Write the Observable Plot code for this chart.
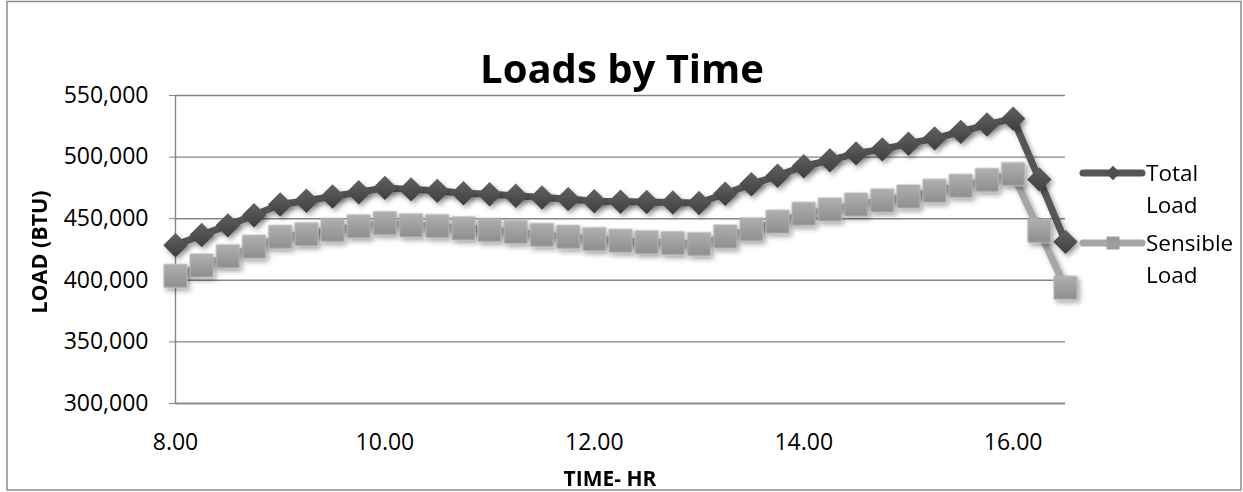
<!DOCTYPE html>
<html><head><meta charset="utf-8">
<script src="https://cdn.jsdelivr.net/npm/d3@7"></script>
<script src="https://cdn.jsdelivr.net/npm/@observablehq/plot@0.6"></script>
<style>
html,body{margin:0;padding:0;background:#fff;}
#wrap{position:relative;width:1243px;height:492px;overflow:hidden;font-family:"Open Sans",sans-serif;}
#chart{position:absolute;left:0;top:60px;}
#overlay{position:absolute;left:0;top:0;pointer-events:none;}
</style>
</head><body><div id="wrap"><div id="chart"></div><svg id="overlay" width="1243" height="492"></svg></div>
<script>
const times = [8.00, 8.25, 8.50, 8.75, 9.00, 9.25, 9.50, 9.75, 10.00, 10.25, 10.50, 10.75, 11.00, 11.25, 11.50, 11.75, 12.00, 12.25, 12.50, 12.75, 13.00, 13.25, 13.50, 13.75, 14.00, 14.25, 14.50, 14.75, 15.00, 15.25, 15.50, 15.75, 16.00, 16.25, 16.50];
const totalLoad = [428500, 436800, 444600, 452800, 461500, 464600, 468000, 471500, 475000, 473800, 472600, 470700, 469900, 468600, 467200, 465900, 464200, 463800, 463500, 463200, 462700, 470200, 477900, 484800, 492600, 497400, 503000, 506300, 510900, 515200, 520500, 526400, 531200, 481900, 431200];
const sensibleLoad = [403500, 412000, 419500, 427200, 435200, 437400, 440800, 443800, 446400, 444600, 444000, 442200, 440800, 439200, 436800, 435200, 433400, 432000, 430900, 430200, 429400, 435500, 441400, 447500, 453900, 457400, 461400, 464800, 468000, 472600, 476600, 481400, 486200, 440000, 393900];
const yTicks = [300000, 350000, 400000, 450000, 500000, 550000];
const xTicks = [8, 10, 12, 14, 16];
const seriesNames = ["Total Load", "Sensible Load"];
const titleText = "Loads by Time";
const xLabel = "TIME- HR";
const yLabel = "LOAD (BTU)";

const rows = times.map((t, i) => ({time: t, total: totalLoad[i], sensible: sensibleLoad[i]}));

const plot = Plot.plot({
  width: 1243, height: 432,
  marginLeft: 175, marginRight: 178, marginTop: 35, marginBottom: 89,
  x: {domain: [8, 16.5]},
  y: {domain: [300000, 550000]},
  style: {fontFamily: "Open Sans", fontSize: "23px", color: "#000", background: "transparent", overflow: "visible"},
  marks: [
    Plot.gridY(yTicks, {stroke: "#868686", strokeOpacity: 1, strokeWidth: 1.4}),
    Plot.ruleX([8], {stroke: "#868686", strokeWidth: 1.4}),
    Plot.ruleY([300000], {stroke: "#868686", strokeWidth: 1.4}),
    Plot.axisY(yTicks, {tickFormat: d3.format(","), tickSize: 6, tickPadding: 21, stroke: "#868686", fill: "#000", label: null}),
    Plot.axisX(xTicks, {tickFormat: d => d.toFixed(2), tickSize: 0, tickPadding: 30, fill: "#000", label: null}),
    Plot.line(rows, {x: "time", y: "total", stroke: "#565656", strokeWidth: 7, strokeLinejoin: "round"}),
    Plot.dot(rows, {x: "time", y: "total", symbol: "diamond2", r: 11, fill: "url(#gTot)"}),
    Plot.line(rows, {x: "time", y: "sensible", stroke: "#a6a6a6", strokeWidth: 7, strokeLinejoin: "round"}),
    Plot.dot(rows, {x: "time", y: "sensible", symbol: "square", r: 13, fill: "url(#gSen)", stroke: "#b5b5b5", strokeWidth: 1})
  ]
});
document.getElementById("chart").appendChild(plot);

// gradients + shadow filter inside the plot svg
const psvg = d3.select(plot);
const defs = psvg.insert("defs", ":first-child");
const gT = defs.append("linearGradient").attr("id", "gTot").attr("x1", 0).attr("y1", 0).attr("x2", 0).attr("y2", 1);
gT.append("stop").attr("offset", "0%").attr("stop-color", "#626262");
gT.append("stop").attr("offset", "100%").attr("stop-color", "#3e3e3e");
const gS = defs.append("linearGradient").attr("id", "gSen").attr("x1", 0).attr("y1", 0).attr("x2", 0).attr("y2", 1);
gS.append("stop").attr("offset", "0%").attr("stop-color", "#b0b0b0");
gS.append("stop").attr("offset", "100%").attr("stop-color", "#8e8e8e");
const f = defs.append("filter").attr("id", "shadow").attr("filterUnits", "userSpaceOnUse")
  .attr("x", 0).attr("y", 0).attr("width", 1243).attr("height", 432);
f.append("feDropShadow").attr("dx", 2.5).attr("dy", 3).attr("stdDeviation", 2.5).attr("flood-color", "#000").attr("flood-opacity", 0.35);
psvg.selectAll('g[aria-label="line"], g[aria-label="dot"]').attr("filter", "url(#shadow)");

const ov = d3.select("#overlay");
// frame
ov.append("rect").attr("x", 7).attr("y", 1.5).attr("width", 1234).attr("height", 488.5)
  .attr("fill", "none").attr("stroke", "#8c8c8c").attr("stroke-width", 1.5);

// title
ov.append("text").attr("x", 622).attr("y", 83).attr("text-anchor", "middle")
  .attr("font-family", "Open Sans").attr("font-weight", 700).attr("font-size", 40).attr("fill", "#000").text(titleText);

// axis titles
ov.append("text").attr("transform", "translate(38,252) rotate(-90)").attr("text-anchor", "middle")
  .attr("dominant-baseline", "central").attr("font-family", "Open Sans").attr("font-weight", 700)
  .attr("font-size", 21.5).attr("fill", "#000").text(yLabel);
ov.append("text").attr("x", 610).attr("y", 486).attr("text-anchor", "middle")
  .attr("font-family", "Open Sans").attr("font-weight", 700)
  .attr("font-size", 21).attr("fill", "#000").text(xLabel);

// legend
const legendItems = [
  {name: seriesNames[0], y: 173, stroke: "#565656", sym: "diamond2", fill: "#4e4e4e"},
  {name: seriesNames[1], y: 243, stroke: "#a6a6a6", sym: "square", fill: "#9c9c9c"}
];
legendItems.forEach(it => {
  const g = ov.append("g");
  g.append("line").attr("x1", 1083).attr("x2", 1142).attr("y1", it.y).attr("y2", it.y)
    .attr("stroke", it.stroke).attr("stroke-width", 7).attr("stroke-linecap", "round");
  const symType = it.sym === "square" ? d3.symbolSquare : d3.symbolDiamond2;
  const size = it.sym === "square" ? 13 * 13 : 130;
  g.append("path").attr("d", d3.symbol(symType, size)()).attr("transform", `translate(1113,${it.y})`)
    .attr("fill", it.fill);
  const words = it.name.split(" ");
  words.forEach((w, j) => {
    g.append("text").attr("x", 1146).attr("y", it.y + 8 + j * 32)
      .attr("font-family", "Open Sans").attr("font-size", 22.5).attr("fill", "#000").text(w);
  });
});
</script>
</body></html>
